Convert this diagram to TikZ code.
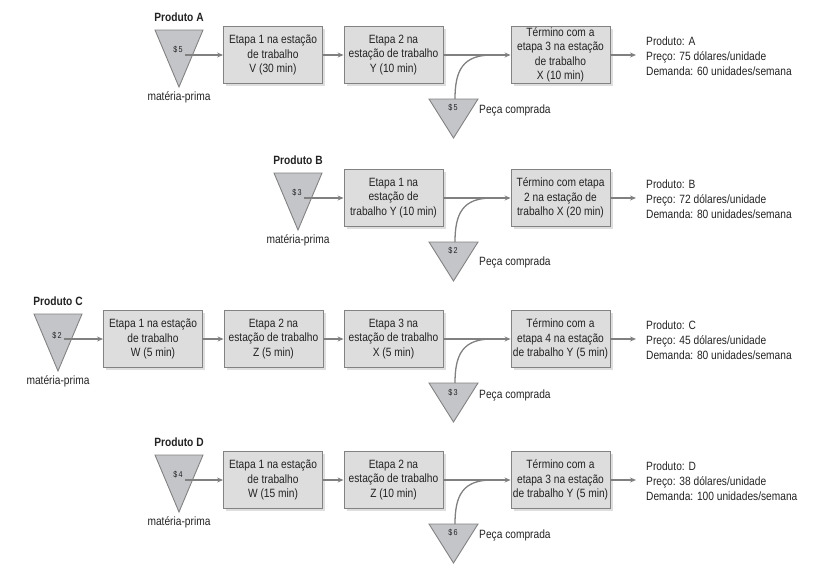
\documentclass[tikz,border=0pt]{standalone}
\usepackage{fontspec}
\setmainfont{Liberation Sans}[FakeStretch=0.85]
\usetikzlibrary{arrows.meta,shadows}
\definecolor{boxfill}{RGB}{221,221,221}
\definecolor{boxline}{RGB}{130,130,130}
\definecolor{trifill}{RGB}{196,197,201}
\definecolor{arrcol}{RGB}{128,128,128}
\definecolor{txt}{RGB}{35,35,35}
\tikzset{
  stepbox/.style={draw=boxline, line width=0.9pt, fill=boxfill, minimum width=99pt, minimum height=57pt,
    align=center, inner sep=0pt, text=txt,
    font=\fontsize{12}{14.5}\selectfont,
    drop shadow={shadow xshift=2.5pt, shadow yshift=-2.5pt, fill=black!13, opacity=1}},
  tri/.style={draw=boxline, line width=0.9pt, fill=trifill},
  arr/.style={draw=arrcol, line width=1.3pt, -{Stealth[length=6pt,width=5pt]}},
  feed/.style={draw=arrcol, line width=1.3pt},
  lbl/.style={text=txt, inner sep=0pt, font=\fontsize{12}{14.5}\selectfont},
  prodlbl/.style={text=txt, inner sep=0pt, font=\fontsize{12}{14.5}\selectfont\bfseries},
  price/.style={text=txt, inner sep=0pt, font=\fontsize{8.5}{10}\selectfont},
  outtxt/.style={text=txt, inner sep=0pt, align=left, anchor=west, font=\fontsize{12}{15}\selectfont},
}
\begin{document}
\begin{tikzpicture}[x=1pt,y=-1pt]
\useasboundingbox (0,0) rectangle (831,568);

% ================= Row A (y = 55) =================
\path[tri] (155,30) -- (203,30) -- (179,87) -- cycle;
\node[prodlbl] (pA) at (179,17) {Produto A};
\node[price] (cA) at (178,50) {\$\,5};
\node[lbl] (mA) at (179,97) {matéria-prima};
\coordinate (sA) at (185,55);
\node[stepbox] (A1) at (273,55) {Etapa 1 na estação\\de trabalho\\V (30 min)};
\node[stepbox] (A2) at (393.5,55) {Etapa 2 na\\estação de trabalho\\Y (10 min)};
\node[stepbox] (A3) at (560.5,55) {Término com a\\etapa 3 na estação\\de trabalho\\X (10 min)};
\node[outtxt] (oA) at (646,56) {Produto: A\\Preço: 75 dólares/unidade\\Demanda: 60 unidades/semana};
\path[tri] (429,99) -- (478,99) -- (453.5,138) -- cycle;
\coordinate (qA) at (455,99);
\node[price] (dA) at (453,108) {\$\,5};
\node[lbl, anchor=west] (eA) at (479,110) {Peça comprada};
\coordinate (jA) at (492,55);
\draw[arr] (sA) -- (A1);
\draw[arr] (A1) -- (A2);
\draw[arr] (A2) -- (A3);
\draw[feed] (qA) .. controls (455,70) and (463,55) .. (jA);
\draw[arr, shorten >=10pt] (A3.east) -- (A3.east -| oA.west);

% ================= Row B (y = 198) =================
\path[tri] (274,173) -- (322,173) -- (298,230) -- cycle;
\node[prodlbl] (pB) at (298,160) {Produto B};
\node[price] (cB) at (297,193) {\$\,3};
\node[lbl] (mB) at (298,240) {matéria-prima};
\coordinate (sB) at (304,198);
\node[stepbox] (B1) at (393.5,198) {Etapa 1 na\\estação de\\trabalho Y (10 min)};
\node[stepbox] (B2) at (560.5,198) {Término com etapa\\2 na estação de\\trabalho X (20 min)};
\node[outtxt] (oB) at (646,199) {Produto: B\\Preço: 72 dólares/unidade\\Demanda: 80 unidades/semana};
\path[tri] (429,242) -- (478,242) -- (453.5,281) -- cycle;
\coordinate (qB) at (455,242);
\node[price] (dB) at (453,251) {\$\,2};
\node[lbl, anchor=west] (eB) at (479,262) {Peça comprada};
\coordinate (jB) at (492,198);
\draw[arr] (sB) -- (B1);
\draw[arr] (B1) -- (B2);
\draw[feed] (qB) .. controls (455,213) and (463,198) .. (jB);
\draw[arr, shorten >=10pt] (B2.east) -- (B2.east -| oB.west);

% ================= Row C (y = 339) =================
\path[tri] (34,314) -- (82,314) -- (58,371) -- cycle;
\node[prodlbl] (pC) at (58,301) {Produto C};
\node[price] (cC) at (57,336) {\$\,2};
\node[lbl] (mC) at (58,381) {matéria-prima};
\coordinate (sC) at (64,339);
\node[stepbox] (C1) at (153,339) {Etapa 1 na estação\\de trabalho\\W (5 min)};
\node[stepbox] (C2) at (273.5,339) {Etapa 2 na\\estação de trabalho\\Z (5 min)};
\node[stepbox] (C3) at (393.5,339) {Etapa 3 na\\estação de trabalho\\X (5 min)};
\node[stepbox] (C4) at (560.5,339) {Término com a\\etapa 4 na estação\\de trabalho Y (5 min)};
\node[outtxt] (oC) at (646,340) {Produto: C\\Preço: 45 dólares/unidade\\Demanda: 80 unidades/semana};
\path[tri] (429,383) -- (478,383) -- (453.5,422) -- cycle;
\coordinate (qC) at (455,383);
\node[price] (dC) at (453,393) {\$\,3};
\node[lbl, anchor=west] (eC) at (479,395) {Peça comprada};
\coordinate (jC) at (492,339);
\draw[arr] (sC) -- (C1);
\draw[arr] (C1) -- (C2);
\draw[arr] (C2) -- (C3);
\draw[arr] (C3) -- (C4);
\draw[feed] (qC) .. controls (455,354) and (463,339) .. (jC);
\draw[arr, shorten >=10pt] (C4.east) -- (C4.east -| oC.west);

% ================= Row D (y = 480) =================
\path[tri] (155,455) -- (203,455) -- (179,512) -- cycle;
\node[prodlbl] (pD) at (179,442) {Produto D};
\node[price] (cD) at (178,475) {\$\,4};
\node[lbl] (mD) at (179,522) {matéria-prima};
\coordinate (sD) at (185,480);
\node[stepbox] (D1) at (273,480) {Etapa 1 na estação\\de trabalho\\W (15 min)};
\node[stepbox] (D2) at (393.5,480) {Etapa 2 na\\estação de trabalho\\Z (10 min)};
\node[stepbox] (D3) at (560.5,480) {Término com a\\etapa 3 na estação\\de trabalho Y (5 min)};
\node[outtxt] (oD) at (646,481) {Produto: D\\Preço: 38 dólares/unidade\\Demanda: 100 unidades/semana};
\path[tri] (429,524) -- (478,524) -- (453.5,563) -- cycle;
\coordinate (qD) at (455,524);
\node[price] (dD) at (453,533) {\$\,6};
\node[lbl, anchor=west] (eD) at (479,535) {Peça comprada};
\coordinate (jD) at (492,480);
\draw[arr] (sD) -- (D1);
\draw[arr] (D1) -- (D2);
\draw[arr] (D2) -- (D3);
\draw[feed] (qD) .. controls (455,495) and (463,480) .. (jD);
\draw[arr, shorten >=10pt] (D3.east) -- (D3.east -| oD.west);
\end{tikzpicture}
\end{document}
